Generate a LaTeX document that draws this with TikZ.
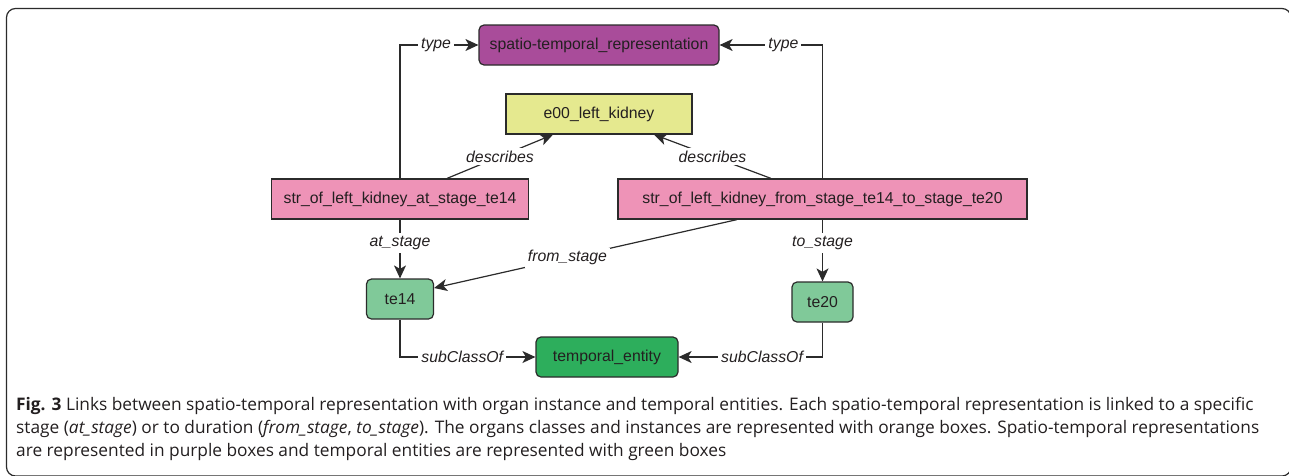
\documentclass[tikz,border=0pt]{standalone}
\usepackage{fontspec}
\setmainfont{Liberation Sans}
\newfontfamily\capfont{Open Sans}
\usetikzlibrary{arrows.meta,calc}
\definecolor{txt}{HTML}{231F20}
\definecolor{edge}{HTML}{2B2B2B}
\definecolor{purp}{HTML}{A94C9A}
\definecolor{yel}{HTML}{E5E98F}
\definecolor{pink}{HTML}{EE93B7}
\definecolor{lgreen}{HTML}{80C999}
\definecolor{dgreen}{HTML}{2DAE5C}
\tikzset{
  box/.style={draw=edge, line width=1.2pt, text=txt, minimum height=40pt, inner sep=0pt,
    font=\fontsize{15.8}{18}\selectfont},
  rbox/.style={box, rounded corners=5pt},
  conn/.style={draw=edge, line width=1.2pt, -{Stealth[length=13pt,width=12pt,inset=3.5pt]}},
  lab/.style={fill=white, inner sep=3pt, text=txt, font=\fontsize{15.8}{18}\selectfont\itshape},
}
\begin{document}
\begin{tikzpicture}[x=1pt,y=-1pt]
\useasboundingbox (0,0) rectangle (1289,475);
\draw[edge, line width=1.2pt, rounded corners=9pt] (6.5,8.5) rectangle (1291,476);

\node[rbox, fill=purp, minimum width=240pt] (spatio) at (599,45) {spatio-temporal\_representation};
\node[box, fill=yel, minimum width=186pt] (e00) at (599,114) {e00\_left\_kidney};
\node[box, fill=pink, minimum width=257pt] (strat) at (400,199) {str\_of\_left\_kidney\_at\_stage\_te14};
\node[box, fill=pink, minimum width=409pt] (strfrom) at (822.5,199) {str\_of\_left\_kidney\_from\_stage\_te14\_to\_stage\_te20};
\node[rbox, fill=lgreen, minimum width=67pt] (te14) at (400,299) {te14};
\node[rbox, fill=lgreen, minimum width=61pt] (te20) at (822.5,302) {te20};
\node[rbox, fill=dgreen, minimum width=142pt] (temporal) at (607,357) {temporal\_entity};

\draw[conn] (strat.north) |- node[lab, pos=0.73] {type} (spatio.west);
\draw[conn] (strfrom.north) |- node[lab, pos=0.69] {type} (spatio.east);
\draw[conn] ([xshift=47pt]strat.north) -- node[lab] {describes} ([xshift=-46pt]e00.south);
\draw[conn] ([xshift=-51.5pt]strfrom.north) -- node[lab] {describes} ([xshift=55pt]e00.south);
\draw[conn] (strat.south) -- node[lab, pos=0.4] {at\_stage} (te14.north);
\draw[conn] (strfrom.south) -- node[lab, pos=0.38] {to\_stage} (te20.north);
\draw[conn] ([xshift=-85.5pt]strfrom.south) -- node[lab, pos=0.56] {from\_stage} ([yshift=11pt]te14.east);
\draw[conn] (te14.south) |- node[lab, pos=0.73] {subClassOf} (temporal.west);
\draw[conn] (te20.south) |- node[lab, pos=0.71] {subClassOf} (temporal.east);

\begin{scope}[every node/.style={anchor=base west, inner sep=0pt, text=txt, font=\capfont\fontsize{17.3}{20}\selectfont}]
\node (cap1) at (16,410) {\textbf{Fig. 3} Links between spatio-temporal representation with organ instance and temporal entities. Each spatio-temporal representation is linked to a specific};
\node (cap2) at (16,433) {stage (\textit{at\_stage}) or to duration (\textit{from\_stage}, \textit{to\_stage}). The organs classes and instances are represented with orange boxes. Spatio-temporal representations};
\node (cap3) at (16,456) {are represented in purple boxes and temporal entities are represented with green boxes};
\end{scope}
\end{tikzpicture}
\end{document}
